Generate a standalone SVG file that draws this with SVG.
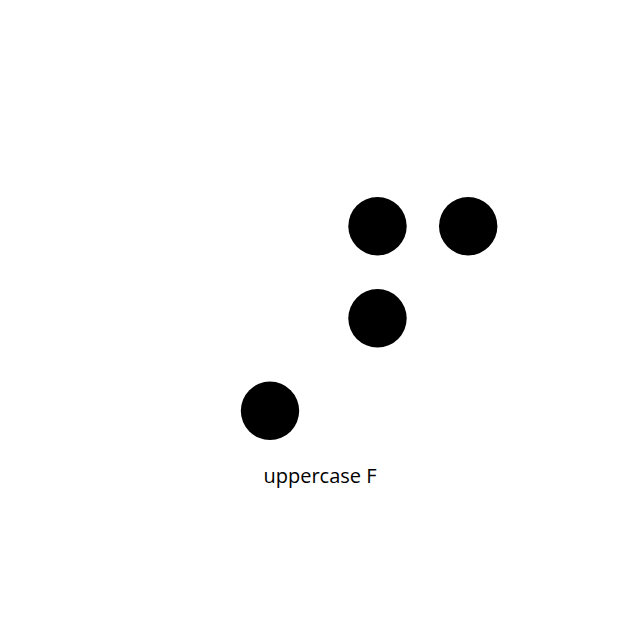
<svg xmlns="http://www.w3.org/2000/svg" width="640" height="640" viewBox="0 0 640 640">
<style>
.dot{fill:#000}
.label{font-family:"Open Sans","Noto Sans",sans-serif;font-size:20px;fill:#000}
</style>
<rect width="640" height="640" fill="#fff"/>
<g id="dot1"><circle class="dot" cx="377.5" cy="226.2" r="29.2"/></g>
<g id="dot4"><circle class="dot" cx="468.2" cy="226.2" r="29.2"/></g>
<g id="dot2"><circle class="dot" cx="377.5" cy="318.3" r="29.2"/></g>
<g id="dot3"><circle class="dot" cx="270" cy="410.8" r="29.2"/></g>
<g id="connectors"></g>
<g id="caption"><text class="label" x="320" y="483.3" text-anchor="middle">uppercase F</text></g>
</svg>
